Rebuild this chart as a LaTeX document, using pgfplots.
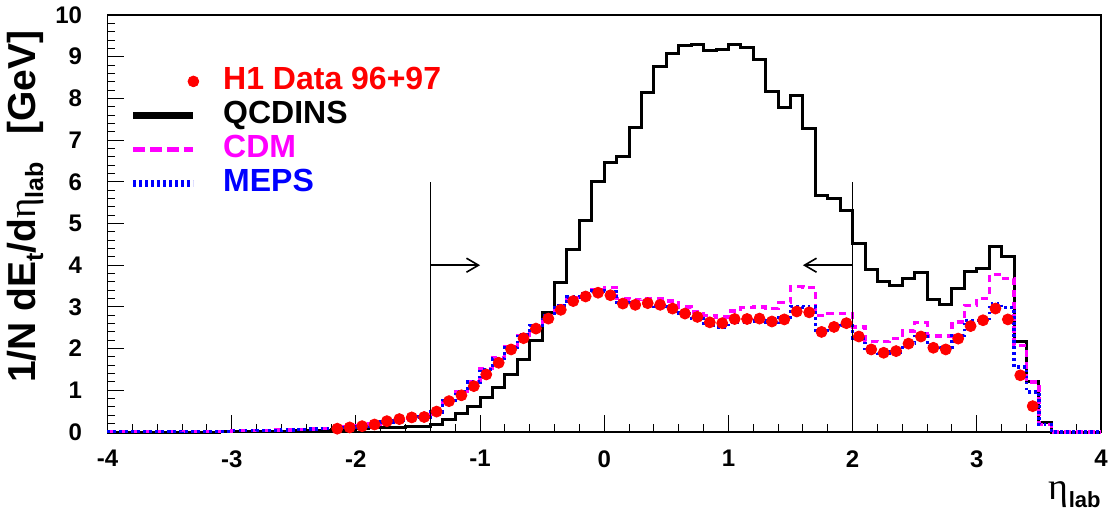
\documentclass[border=0pt]{standalone}
\usepackage{fontspec}
\setmainfont{Liberation Sans}
\newfontfamily\greekfont{Liberation Serif}
\usepackage{pgfplots}
\usepackage{pgfplotstable}
\pgfplotsset{compat=1.18}
\usetikzlibrary{arrows.meta}
\definecolor{rootred}{RGB}{255,0,0}
\definecolor{rootmag}{RGB}{255,0,255}
\definecolor{rootblue}{RGB}{0,0,255}

% lo = left bin edge, D = H1 data, Q = QCDINS, C = CDM, M = MEPS
\pgfplotstableread{
lo   D    Q    C    M
-4.0 nan  0.00 0.01 0.01
-3.9 nan  0.00 0.01 0.01
-3.8 nan  0.00 0.01 0.01
-3.7 nan  0.00 0.01 0.01
-3.6 nan  0.00 0.01 0.01
-3.5 nan  0.00 0.01 0.01
-3.4 nan  0.00 0.02 0.02
-3.3 nan  0.00 0.02 0.02
-3.2 nan  0.00 0.02 0.02
-3.1 nan  0.01 0.02 0.02
-3.0 nan  0.01 0.03 0.03
-2.9 nan  0.01 0.03 0.03
-2.8 nan  0.01 0.04 0.04
-2.7 nan  0.02 0.05 0.04
-2.6 nan  0.02 0.05 0.05
-2.5 nan  0.03 0.06 0.06
-2.4 nan  0.03 0.07 0.07
-2.3 nan  0.04 0.08 0.08
-2.2 0.08 0.05 0.10 0.10
-2.1 0.11 0.06 0.12 0.11
-2.0 0.14 0.08 0.15 0.14
-1.9 0.18 0.10 0.19 0.18
-1.8 0.26 0.11 0.25 0.24
-1.7 0.31 0.12 0.29 0.27
-1.6 0.35 0.13 0.33 0.32
-1.5 0.36 0.14 0.37 0.36
-1.4 0.49 0.18 0.50 0.48
-1.3 0.74 0.31 0.78 0.76
-1.2 0.88 0.44 0.98 0.96
-1.1 1.10 0.61 1.22 1.20
-1.0 1.38 0.82 1.52 1.50
-0.9 1.66 1.06 1.78 1.76
-0.8 1.98 1.38 2.04 2.02
-0.7 2.25 1.75 2.32 2.34
-0.6 2.48 2.20 2.56 2.56
-0.5 2.72 2.86 2.78 2.80
-0.4 2.93 3.58 3.04 3.04
-0.3 3.14 4.37 3.23 3.24
-0.2 3.25 5.08 3.33 3.32
-0.1 3.34 6.00 3.41 3.38
0.0  3.28 6.46 3.47 3.36
0.1  3.08 6.61 3.20 3.10
0.2  3.05 7.31 3.17 3.04
0.3  3.09 8.15 3.20 3.04
0.4  3.05 8.77 3.19 3.01
0.5  2.96 9.07 3.14 2.96
0.6  2.84 9.27 3.00 2.84
0.7  2.76 9.30 2.88 2.72
0.8  2.63 9.15 2.80 2.56
0.9  2.61 9.17 2.76 2.52
1.0  2.71 9.29 2.90 2.63
1.1  2.71 9.23 2.98 2.63
1.2  2.72 8.94 3.00 2.66
1.3  2.65 8.17 2.96 2.63
1.4  2.70 7.79 3.10 2.74
1.5  2.89 8.06 3.49 3.01
1.6  2.87 7.28 3.46 3.00
1.7  2.40 5.66 2.80 2.44
1.8  2.52 5.61 2.84 2.49
1.9  2.61 5.32 2.84 2.56
2.0  2.29 4.53 2.52 2.24
2.1  1.98 3.89 2.18 1.92
2.2  1.90 3.60 2.17 1.88
2.3  1.94 3.52 2.24 1.92
2.4  2.12 3.68 2.42 2.13
2.5  2.29 3.82 2.62 2.36
2.6  2.02 3.18 2.30 2.04
2.7  1.98 3.06 2.30 2.02
2.8  2.24 3.44 2.64 2.32
2.9  2.54 3.86 3.04 2.68
3.0  2.68 3.93 3.20 2.68
3.1  2.96 4.46 3.77 3.08
3.2  2.70 4.21 3.68 2.98
3.3  1.36 2.16 2.08 1.56
3.4  0.62 1.22 1.20 0.96
3.5  nan  0.22 0.18 0.18
3.6  nan  0.00 0.00 0.00
3.7  nan  0.00 0.00 0.00
3.8  nan  0.00 0.00 0.00
3.9  nan  0.00 0.00 0.00
4.0  nan  0.00 0.00 0.00
}\etdata

\begin{document}
\begin{tikzpicture}
\useasboundingbox (-53.75pt,-42pt) rectangle (501.75pt,216pt);
\begin{axis}[
    scale only axis,
    width=496.75pt, height=208.5pt,
    xmin=-4, xmax=4, ymin=0, ymax=10,
    xtick={-4,-3,...,4}, ytick={0,1,...,10},
    minor x tick num=4, minor y tick num=4,
    tick align=inside, tick pos=left,
    major tick length=8.5pt, minor tick length=4pt,
    every tick/.style={black, line width=0.5pt},
    axis line style={line width=0.6pt},
    clip=false,
    /pgf/number format/assume math mode=true,
    tick label style={font=\fontsize{12}{12}\selectfont\bfseries},
    yticklabel style={inner sep=0pt, xshift=-12.5pt},
    xticklabel style={inner sep=0pt, yshift=-9pt},
    xlabel={{\greekfont\fontsize{19}{19}\selectfont η}\raisebox{-4pt}{\fontsize{11}{11}\selectfont\bfseries lab}},
    xlabel style={at={(axis description cs:1,-0.151)}, anchor=east, inner sep=0pt},
    ylabel={\bfseries 1/N dE\raisebox{-4pt}{\fontsize{12.5}{12.5}\selectfont t}/d{\greekfont\mdseries η}\raisebox{-4pt}{\fontsize{12.5}{12.5}\selectfont lab}\hspace{0.7em}[GeV]},
    ylabel style={at={(axis description cs:-0.083,0.54)}, anchor=center, inner sep=0pt, font=\fontsize{19.5}{19.5}\selectfont},
    legend cell align=left,
    legend style={at={(axis description cs:0,1)}, anchor=north west,
        xshift=11pt, yshift=-24.5pt, draw=none, fill=none, inner sep=0pt,
        font=\fontsize{16}{16}\selectfont\bfseries, row sep=0pt,
        nodes={inner xsep=0pt, inner ysep=1pt, text height=11.5pt, text depth=3.5pt},
        /tikz/every odd column/.style={column sep=12pt}},
]
\addplot[only marks, mark=*, mark size=2.75pt, color=rootred,
    legend image code/.code={\path[draw=none] (0pt,0pt) -- (30pt,0pt); \fill[rootred] (30pt,0pt) circle (2.7pt);}]
    table[x expr=\thisrow{lo}+0.05, y=D] {\etdata};
\addlegendentry{\textcolor{rootred}{H1 Data 96+97}}
\addplot[const plot, black, line width=1.5pt,
    legend image code/.code={\draw[black, line width=3.3pt] (0pt,0pt) -- (30pt,0pt);}]
    table[x=lo, y=Q] {\etdata};
\addlegendentry{QCDINS}
\addplot[const plot, rootmag, line width=1.6pt, dash pattern=on 3.5pt off 2.5pt,
    legend image code/.code={\draw[rootmag, line width=2.5pt, dash pattern=on 6pt off 2.5pt] (0pt,0pt) -- (30pt,0pt);}]
    table[x=lo, y=C] {\etdata};
\addlegendentry{\textcolor{rootmag}{CDM}}
\addplot[const plot, rootblue, line width=1.6pt, dash pattern=on 1.3pt off 1.7pt,
    legend image code/.code={\draw[rootblue, line width=3.5pt, dash pattern=on 1.3pt off 1.7pt] (0pt,0pt) -- (30pt,0pt);}]
    table[x=lo, y=M] {\etdata};
\addlegendentry{\textcolor{rootblue}{MEPS}}
% cut lines and arrows
\draw[black, line width=0.8pt] (axis cs:-1.4,0) -- (axis cs:-1.4,6);
\draw[black, line width=0.8pt] (axis cs:2,0) -- (axis cs:2,6);
\draw[black, line width=0.8pt, -{Straight Barb[length=6pt,width=7pt]}] (axis cs:-1.4,4) -- (axis cs:-1.0,4);
\draw[black, line width=0.8pt, -{Straight Barb[length=6pt,width=7pt]}] (axis cs:2,4) -- (axis cs:1.6,4);
\end{axis}
\end{tikzpicture}
\end{document}
